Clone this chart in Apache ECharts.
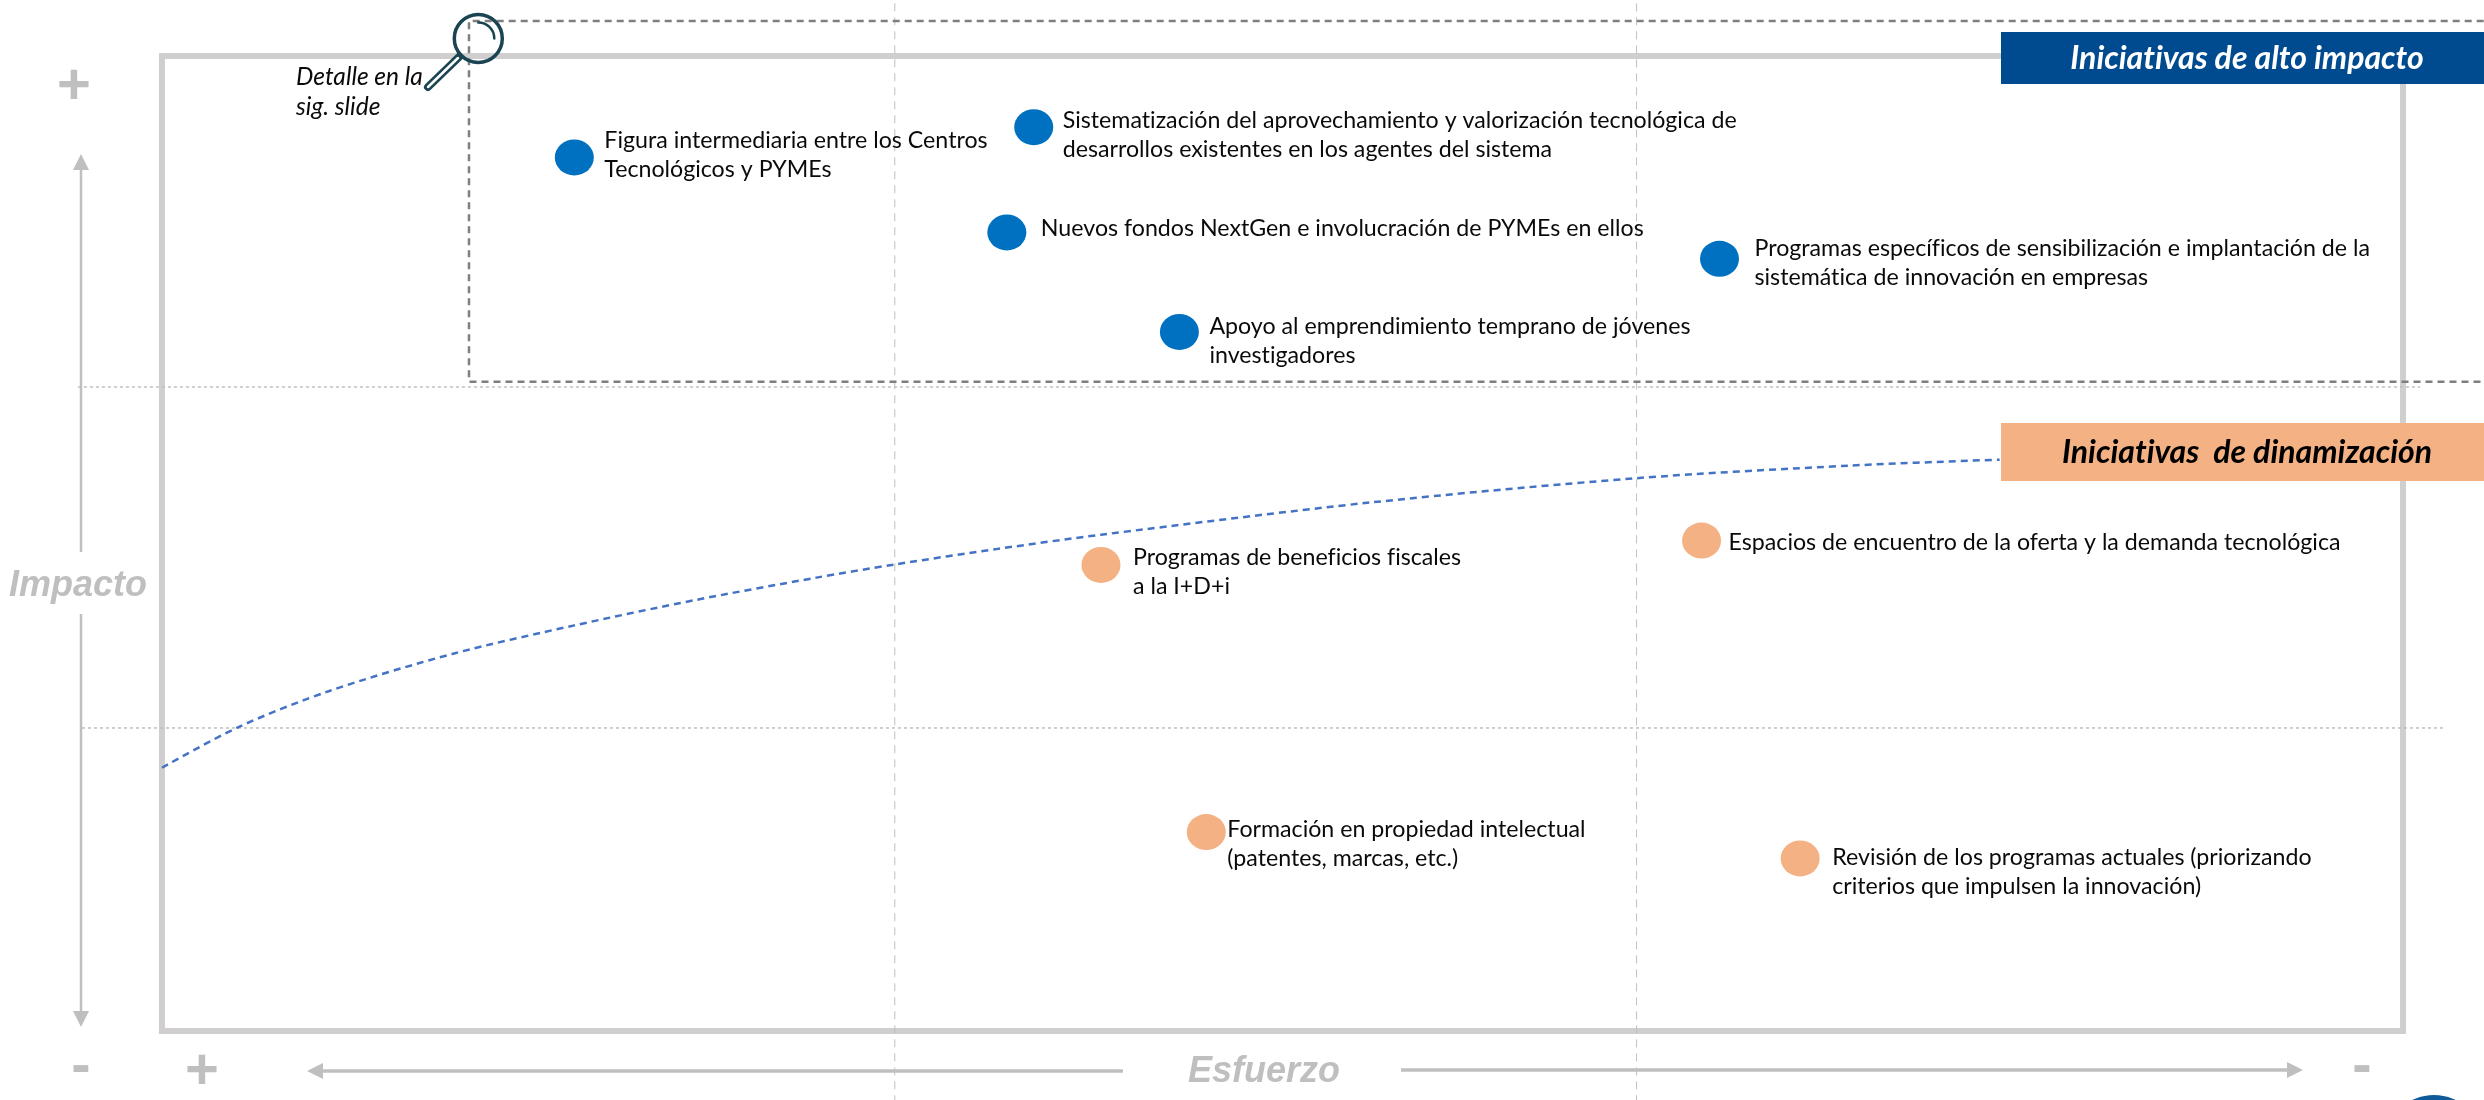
<!DOCTYPE html>
<html><head><meta charset="utf-8">
<style>html,body{margin:0;padding:0;background:#fff}#c{width:2484px;height:1100px}</style>
<script src="https://cdn.jsdelivr.net/npm/echarts@6/dist/echarts.min.js"></script>
</head><body><div id="c"></div>
<script>
const highNames = [
  "Figura intermediaria entre los Centros\nTecnológicos y PYMEs",
  "Sistematización del aprovechamiento y valorización tecnológica de\ndesarrollos existentes en los agentes del sistema",
  "Nuevos fondos NextGen e involucración de PYMEs en ellos",
  "Programas específicos de sensibilización e implantación de la\nsistemática de innovación en empresas",
  "Apoyo al emprendimiento temprano de jóvenes\ninvestigadores"
];
const highEffort = [18.4, 38.9, 37.7, 69.5, 45.4];
const highImpact = [89.6, 92.7, 81.9, 79.2, 71.7];
const highLabelOffsets = [[30,-2],[29,8],[34,-4],[35,4],[30,9]];

const dynNames = [
  "Programas de beneficios fiscales\na la I+D+i",
  "Espacios de encuentro de la oferta y la demanda tecnológica",
  "Formación en propiedad intelectual\n(patentes, marcas, etc.)",
  "Revisión de los programas actuales (priorizando\ncriterios que impulsen la innovación)"
];
const dynEffort = [41.9, 68.7, 46.6, 73.1];
const dynImpact = [47.8, 50.3, 20.4, 17.7];
const dynLabelOffsets = [[32,7],[27,2],[21,12],[32,14]];

const curveEffort = [0, 3.44, 7.5, 13.0, 18.4, 23.8, 29.2, 32.7, 37.3, 41.9, 53.9, 65.8, 75.4, 82.0];
const curveImpact = [27.0, 31.2, 34.9, 38.7, 41.6, 44.2, 46.5, 47.85, 49.45, 50.9, 54.2, 56.7, 58.0, 58.6];

const bandEffort = [32.7, 65.8];
const bandImpact = [66.05, 31.08];
const bandImpactEnds = [[-3.75, 100.76], [-3.57, 101.8]];
const frameEffort = [0, 100, 100, 0, 0];
const frameImpact = [0, 0, 100, 100, 0];
const detailBoxEffort = [103.6, 13.7, 13.7, 103.6];
const detailBoxImpact = [103.6, 103.6, 66.6, 66.6];

const FONT = 'Lato';
const GREY = '#BFBFBF';
const TXT = '#0A0A0A';

// Calibri-like text has no "ti" ligature: draw canvas text without ligatures.
const origFill = CanvasRenderingContext2D.prototype.fillText;
CanvasRenderingContext2D.prototype.fillText = function () {
  this.textRendering = 'optimizeSpeed';
  return origFill.apply(this, arguments);
};

const refLine = (data, style, z) => ({
  type:'line', data, symbol:'none', clip:false, silent:true, animation:false, z:z||1,
  lineStyle:style
});
const points = (xs, ys, names, offs, color) => ({
  type:'scatter', animation:false, z:5, symbol:'circle', symbolSize:[39,36],
  itemStyle:{color, opacity:1},
  data: xs.map((x,i)=>({
    value:[x,ys[i]], name:names[i],
    label:{show:true, position:'right', distance:0, offset:[offs[i][0]-19.5, offs[i][1]],
      formatter:'{b}', align:'left', verticalAlign:'middle',
      fontFamily:FONT, fontSize:23.2, lineHeight:29, color:TXT}
  }))
});
const line = (pts, w) => ({type:'polyline', silent:true, z:20, shape:{points:pts},
  style:{stroke:GREY, lineWidth:w||3, fill:null}});
const tri = (pts) => ({type:'polygon', silent:true, z:20, shape:{points:pts}, style:{fill:GREY}});
const txt = (x,y,t,s) => ({type:'text', silent:true, z:30, x, y,
  style:Object.assign({text:t, align:'center', verticalAlign:'middle'}, s)});
const sideTitle = {fontFamily:'Liberation Sans', fontWeight:'bold', fontStyle:'italic', fontSize:36, fill:GREY};
const sign = {fontFamily:'Liberation Sans', fontWeight:'bold', fontSize:58, fill:GREY};

const chart = echarts.init(document.getElementById('c'), null, {renderer:'canvas'});
chart.setOption({
  animation:false,
  backgroundColor:'#fff',
  grid:{left:0.6, right:0.3, top:56, bottom:69, show:false},
  xAxis:{type:'value', min:-7.2, max:103.6, show:false, splitLine:{show:false}},
  yAxis:{type:'value', min:0, max:100, show:false, splitLine:{show:false}},
  series:[
    refLine(frameEffort.map((x,i)=>[x,frameImpact[i]]), {color:'#D0CECE', width:6, cap:'square', join:'miter'}, 1),
    ...bandEffort.map(x=>refLine([[x,105.4],[x,-7.2]], {color:GREY, width:1, type:[8,6]}, 2)),
    ...bandImpact.map((y,i)=>refLine([[bandImpactEnds[i][0],y],[bandImpactEnds[i][1],y]], {color:GREY, width:1.5, type:[3,3]}, 2)),
    refLine(detailBoxEffort.map((x,i)=>[x,detailBoxImpact[i]]), {color:'#7F7F7F', width:2.5, type:[7,5]}, 2),
    Object.assign(refLine(curveEffort.map((x,i)=>[x,curveImpact[i]]), {color:'#4472C4', width:2.5, type:[7,5]}, 3), {smooth:0.3}),
    points(highEffort, highImpact, highNames, highLabelOffsets, '#0070C0'),
    points(dynEffort, dynImpact, dynNames, dynLabelOffsets, '#F4B183')
  ],
  graphic:[
    {type:'rect', silent:true, z:15, shape:{x:2001,y:32,width:483,height:52}, style:{fill:'#004B8F'}},
    txt(2247,59,'Iniciativas de alto impacto',{fontFamily:FONT,fontWeight:'bold',fontStyle:'italic',fontSize:32,fill:'#fff'}),
    {type:'rect', silent:true, z:15, shape:{x:2001,y:423,width:483,height:58}, style:{fill:'#F4B183'}},
    txt(2247,453,'Iniciativas  de dinamización',{fontFamily:FONT,fontWeight:'bold',fontStyle:'italic',fontSize:32,fill:'#000'}),

    line([[81,170],[81,552]],2.5), line([[81,614],[81,1011]],2.5),
    tri([[81,154],[73,170],[89,170]]), tri([[81,1027],[73,1011],[89,1011]]),
    line([[323,1071],[1123,1071]],3.5), line([[1401,1070],[2287,1070]],3.5),
    tri([[307,1071],[323,1063],[323,1079]]), tri([[2303,1070],[2287,1062],[2287,1078]]),

    txt(78,586,'Impacto',sideTitle),
    txt(1264,1072,'Esfuerzo',sideTitle),
    txt(74,88,'+',sign), txt(202,1073,'+',sign),
    txt(81,1068,'-',sign), txt(2362,1068,'-',sign),

    txt(296,92,'Detalle en la\nsig. slide',{align:'left',fontFamily:FONT,fontStyle:'italic',fontSize:24.5,lineHeight:30,fill:TXT}),

    {type:'circle', silent:true, z:22, shape:{cx:478.3,cy:38.5,r:24}, style:{stroke:'#1B4453',lineWidth:3.5,fill:null}},
    {type:'arc', silent:true, z:22, shape:{cx:478.3,cy:38.5,r:16,startAngle:-Math.PI/2,endAngle:0,clockwise:true},
      style:{stroke:'#1B4453',lineWidth:2.5,fill:null,lineCap:'round'}},
    {type:'line', silent:true, z:22, shape:{x1:459,y1:57,x2:428,y2:87}, style:{stroke:'#1B4453',lineWidth:8,lineCap:'round'}},
    {type:'line', silent:true, z:23, shape:{x1:458,y1:58,x2:428,y2:87}, style:{stroke:'#fff',lineWidth:2.5,lineCap:'round'}},

    {type:'circle', silent:true, z:15, shape:{cx:2434,cy:1144,r:49}, style:{fill:'#0F5A9A'}}
  ]
});
</script></body></html>
